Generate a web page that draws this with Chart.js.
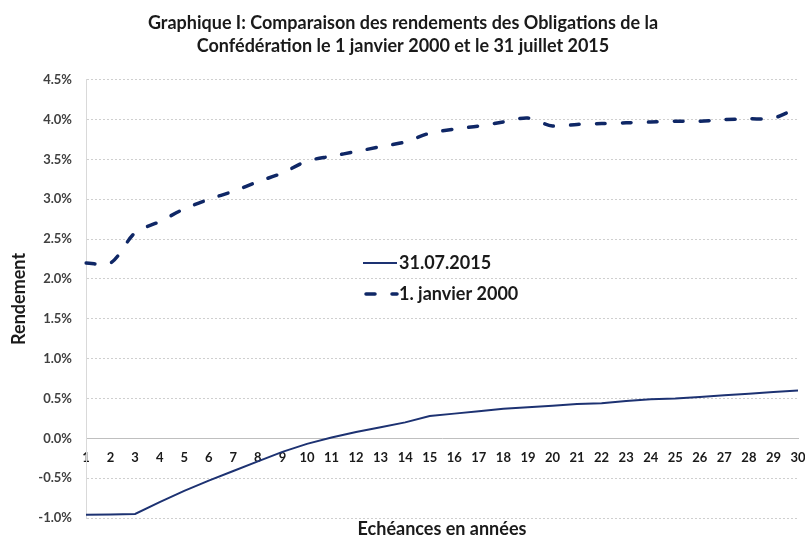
<!DOCTYPE html>
<html>
<head>
<meta charset="utf-8">
<script src="https://cdn.jsdelivr.net/npm/chart.js@4"></script>
<style>
  body { margin: 0; background: #fff; }
  #wrap { width: 805px; height: 540px; }
</style>
</head>
<body>
<div id="wrap"><canvas id="chart"></canvas></div>
<script>
var maturities = ["1","2","3","4","5","6","7","8","9","10","11","12","13","14","15","16","17","18","19","20","21","22","23","24","25","26","27","28","29","30"];
var yield2015 = [-0.96,-0.955,-0.95,-0.80,-0.66,-0.53,-0.41,-0.29,-0.17,-0.07,0.01,0.08,0.14,0.20,0.28,0.31,0.34,0.37,0.39,0.41,0.43,0.44,0.47,0.49,0.50,0.52,0.54,0.56,0.58,0.60];
var yield2000 = [2.20,2.20,2.58,2.72,2.88,3.00,3.10,3.22,3.33,3.48,3.54,3.60,3.66,3.72,3.83,3.88,3.92,3.97,4.02,3.92,3.94,3.95,3.96,3.97,3.98,3.98,4.00,4.01,4.02,4.15];
var seriesNames = ["31.07.2015", "1. janvier 2000"];

const FONT = "Lato, 'Open Sans', sans-serif";

// legend drawn inside the plot, like the original
const innerLegend = {
    id: "innerLegend",
    afterDatasetsDraw(chart) {
        const ctx = chart.ctx;
        const x0 = 363, rows = [263, 294];
        ctx.save();
        chart.data.datasets.forEach(function (ds, i) {
            const y = rows[i];
            ctx.beginPath();
            ctx.strokeStyle = ds.borderColor;
            ctx.lineWidth = ds.borderWidth;
            ctx.lineCap = ds.borderCapStyle || "butt";
            ctx.setLineDash(ds.borderDash || []);
            ctx.moveTo(x0 + (i ? 3 : 0), y);
            ctx.lineTo(x0 + 34, y);
            ctx.stroke();
            ctx.setLineDash([]);
            ctx.fillStyle = "#1a1a1a";
            ctx.font = "bold 18px " + FONT;
            ctx.textBaseline = "middle";
            ctx.fillText(ds.label, x0 + 36, y);
        });
        ctx.restore();
    }
};

new Chart(document.getElementById("chart"), {
    type: "line",
    data: {
        labels: maturities,
        datasets: [{
            label: seriesNames[0],
            data: yield2015,
            borderColor: "#1d3272",
            borderWidth: 2,
            pointRadius: 0,
            tension: 0,
            fill: false
        }, {
            label: seriesNames[1],
            data: yield2000,
            borderColor: "#0f2766",
            borderWidth: 3.5,
            borderDash: [9, 17],
            borderCapStyle: "round",
            pointRadius: 0,
            tension: 0.3,
            fill: false
        }]
    },
    options: {
        responsive: true,
        maintainAspectRatio: false,
        animation: false,
        layout: { padding: { left: 8, right: 7, top: 3, bottom: 0 } },
        plugins: {
            legend: { display: false },
            tooltip: { enabled: false },
            title: {
                display: true,
                text: ["Graphique I: Comparaison des rendements des Obligations de la", "Confédération le 1 janvier 2000 et le 31 juillet 2015"],
                color: "#1a1a1a",
                font: { family: FONT, size: 18, weight: "bold", lineHeight: 1.3 },
                padding: { top: 8, bottom: 22 }
            }
        },
        scales: {
            x: {
                type: "category",
                position: { y: 0 },
                offset: false,
                grid: { display: false, drawTicks: false },
                border: { display: true, color: "#bfbfbf", width: 1 },
                ticks: {
                    color: "#1a1a1a",
                    font: { family: FONT, size: 13, weight: "bold" },
                    padding: 12,
                    maxRotation: 0,
                    autoSkip: false
                },
                afterFit: function (s) { s.paddingLeft = 0; s.paddingRight = 0; }
            },
            x2: {
                type: "category",
                position: "bottom",
                offset: false,
                grid: { display: false, drawTicks: false },
                border: { display: false },
                ticks: { display: false },
                title: {
                    display: true,
                    text: "Echéances en années",
                    color: "#1a1a1a",
                    font: { family: FONT, size: 18, weight: "bold" },
                    padding: { top: 2, bottom: 0 }
                },
                afterFit: function (s) { s.height = 22; s.paddingLeft = 0; s.paddingRight = 0; }
            },
            y: {
                min: -1,
                max: 4.5,
                grid: { color: "#cfcfcf", drawTicks: false },
                border: { display: true, color: "#d9d9d9", dash: [2, 2] },
                ticks: {
                    stepSize: 0.5,
                    color: "#404040",
                    font: { family: FONT, size: 13, weight: "bold" },
                    padding: 14,
                    callback: function (v) { return v.toFixed(1) + "%"; }
                },
                title: {
                    display: true,
                    text: "Rendement",
                    color: "#1a1a1a",
                    font: { family: FONT, size: 18, weight: "bold" },
                    padding: 0
                },
                afterFit: function (s) { s.width = 78; }
            }
        }
    },
    plugins: [innerLegend]
});
</script>
</body>
</html>
